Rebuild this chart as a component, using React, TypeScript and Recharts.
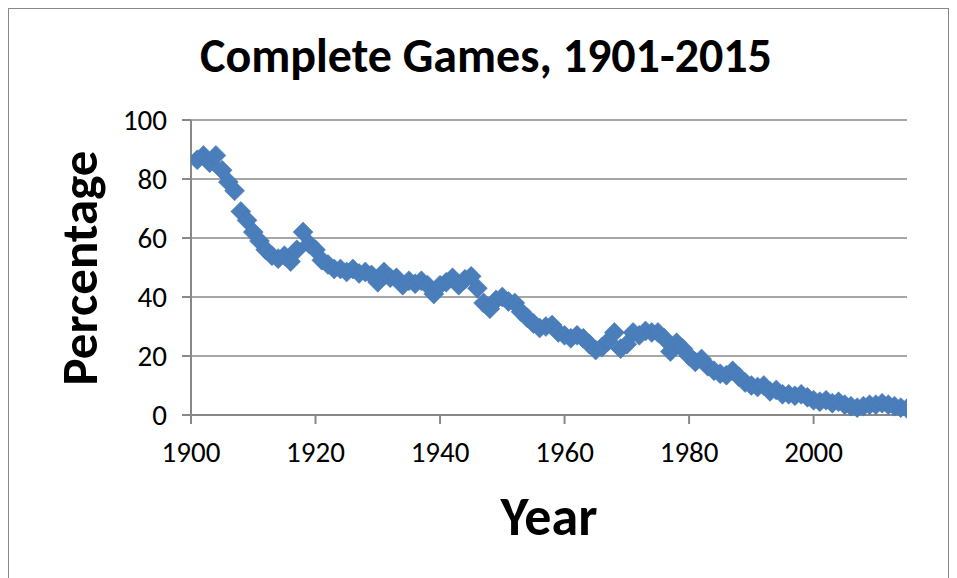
import { CartesianGrid, Label, Scatter, ScatterChart, XAxis, YAxis } from "recharts";

// share of starts that were complete games, one value per season from 1901
const firstYear = 1901;
const percentages = [
  86.5, 88, 85.5, 88, 83, 79, 76, 69, 66, 62, // 1901-1910
  59, 56, 54, 53, 54, 52, 56, 62, 58, 56, // 1911-1920
  52.5, 51, 49.5, 49.5, 48.5, 49.5, 48, 48.5, 47.5, 45, // 1921-1930
  48.5, 46.5, 46.5, 44, 45.5, 44.5, 45.5, 44, 41, 44, // 1931-1940
  45, 46.5, 44, 46, 47, 43, 38, 36, 39, 40, // 1941-1950
  38.5, 38, 35, 33, 31, 29.5, 30, 30.5, 28, 27, // 1951-1960
  26, 27, 26, 24, 22, 23, 25, 28, 22.5, 24, // 1961-1970
  28, 27, 28.5, 28, 28, 26, 21.5, 24.5, 22.5, 20, // 1971-1980
  18, 19, 16.5, 15, 14, 13.5, 15, 13, 11, 10, // 1981-1990
  9.5, 10, 8, 8.5, 7, 7, 6.5, 7, 6, 5, // 1991-2000
  4.5, 5, 4, 4.5, 3.5, 3, 2.5, 3, 3.5, 3.5, // 2001-2010
  4, 3.5, 3, 2.5, 2.2, // 2011-2015
];

const xTicks = [1900, 1920, 1940, 1960, 1980, 2000];
const yTicks = [0, 20, 40, 60, 80, 100];

const data = percentages.map((pct, i) => ({ year: firstYear + i, pct }));

const font = "Carlito, Lato, 'Liberation Sans', sans-serif";
const gray = "#888888";
const blue = "#4A7EBB";

const Diamond = (props) => {
  const { cx, cy } = props;
  const r = 10;
  return (
    <polygon
      points={`${cx},${cy - r} ${cx + r},${cy} ${cx},${cy + r} ${cx - r},${cy}`}
      fill={blue}
      stroke="#4577b4"
      strokeWidth={0.5}
    />
  );
};

export default function App() {
  return (
    <div
      style={{
        position: "relative",
        width: 941,
        height: 570,
        boxSizing: "border-box",
        borderTop: `1px solid ${gray}`,
        borderLeft: `1px solid ${gray}`,
        borderRight: `1px solid ${gray}`,
        fontFamily: font,
        background: "#fff",
      }}
    >
      <div
        style={{
          position: "absolute",
          left: 77,
          top: 17,
          width: 800,
          textAlign: "center",
          fontSize: 48,
          fontWeight: 700,
          color: "#000",
        }}
      >
        Complete Games, 1901-2015
      </div>
      <ScatterChart
        width={939}
        height={569}
        margin={{ top: 111, right: 41, left: 0, bottom: 103 }}
      >
        <CartesianGrid
          horizontal
          vertical={false}
          stroke={gray}
          strokeWidth={1.5}
        />
        <XAxis
          type="number"
          dataKey="year"
          domain={[1900, 2015]}
          ticks={xTicks}
          allowDataOverflow
          height={60}
          axisLine={{ stroke: gray, strokeWidth: 2 }}
          tickLine={{ stroke: gray, strokeWidth: 2 }}
          tickSize={9}
          tickMargin={17}
          tick={{ fill: "#000", fontSize: 29, fontFamily: font }}
        >
          <Label
            content={() => (
              <text
                x={540}
                y={526}
                textAnchor="middle"
                fontSize={54}
                fontWeight={700}
                fontFamily={font}
                fill="#000"
              >
                Year
              </text>
            )}
          />
        </XAxis>
        <YAxis
          type="number"
          dataKey="pct"
          domain={[0, 100]}
          ticks={yTicks}
          width={182}
          axisLine={{ stroke: gray, strokeWidth: 2 }}
          tickLine={{ stroke: gray, strokeWidth: 2 }}
          tickSize={9}
          tickMargin={15}
          tick={{ fill: "#000", fontSize: 29, fontFamily: font }}
        >
          <Label
            content={() => (
              <text
                x={88}
                y={259}
                transform="rotate(-90 88 259)"
                textAnchor="middle"
                fontSize={51}
                fontWeight={700}
                fontFamily={font}
                fill="#000"
              >
                Percentage
              </text>
            )}
          />
        </YAxis>
        <Scatter
          data={data}
          shape={<Diamond />}
          isAnimationActive={false}
        />
      </ScatterChart>
    </div>
  );
}
